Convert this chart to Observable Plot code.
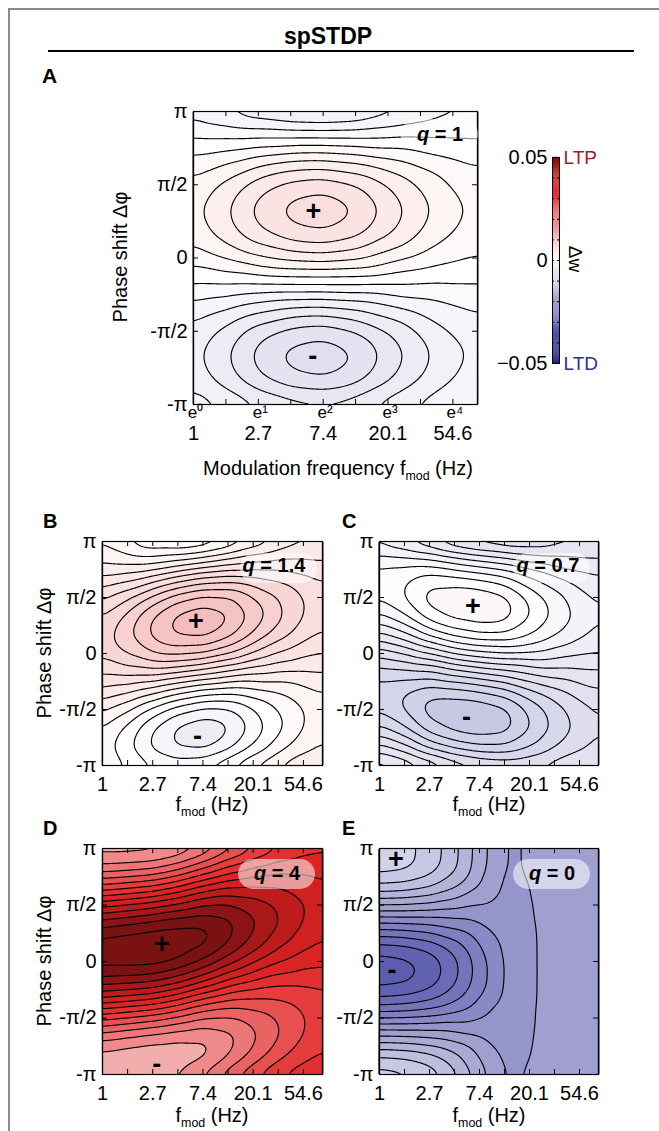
<!DOCTYPE html>
<html>
<head>
<meta charset="utf-8">
<script src="https://cdn.jsdelivr.net/npm/d3@7"></script>
<script src="https://cdn.jsdelivr.net/npm/@observablehq/plot@0.6"></script>
<style>
  html, body { margin: 0; padding: 0; background: #fff; }
  #page { position: relative; width: 659px; height: 1131px; overflow: hidden; background: #fff;
          font-family: "Liberation Sans", Arial, Helvetica, sans-serif; color: #000; }
  .abs { position: absolute; white-space: nowrap; line-height: 1; }
  .plot { position: absolute; }
  .plot svg { overflow: visible; }
  sub { font-size: 62%; vertical-align: -0.38em; line-height: 0; }
</style>
</head>
<body>
<div id="page"></div>
<script>
// ---------------- data (values in units of 0.001 of Δw) ----------------
// grid columns: ln(f_mod); grid rows: phase shift Δφ in units of π (top → bottom)
const lnf = [0, 0.5, 1, 1.5, 2, 2.5, 3, 3.5, 4, 4.5];
const phi = [1, 5/6, 2/3, 1/2, 1/3, 1/6, 0, -1/6, -1/3, -1/2, -2/3, -5/6, -1];

// Panel A, q = 1
const gridA = [
  [-1.4, -2.1, -2.9, -3.4, -3.6, -3.3, -2.5, -1.8, -1.2, -0.9],
  [-0.1, -0.2, -0.2, -0.3, -0.3, -0.3, -0.2, -0.1, -0.1, -0.1],
  [ 1.3,  1.8,  2.5,  3.0,  3.1,  2.8,  2.2,  1.6,  1.1,  0.7],
  [ 2.3,  3.3,  4.6,  5.4,  5.7,  5.1,  4.0,  2.9,  1.9,  1.4],
  [ 2.7,  3.9,  5.4,  6.4,  6.7,  6.1,  4.7,  3.4,  2.3,  1.6],
  [ 2.4,  3.5,  4.8,  5.7,  6.0,  5.4,  4.2,  3.0,  2.0,  1.4],
  [ 1.4,  2.1,  2.9,  3.4,  3.6,  3.3,  2.5,  1.8,  1.2,  0.9],
  [ 0.1,  0.2,  0.2,  0.3,  0.3,  0.3,  0.2,  0.1,  0.1,  0.1],
  [-1.3, -1.8, -2.5, -3.0, -3.1, -2.8, -2.2, -1.6, -1.1, -0.7],
  [-2.3, -3.3, -4.6, -5.4, -5.7, -5.1, -4.0, -2.9, -1.9, -1.4],
  [-2.7, -3.9, -5.4, -6.4, -6.7, -6.1, -4.7, -3.4, -2.3, -1.6],
  [-2.4, -3.5, -4.8, -5.7, -6.0, -5.4, -4.2, -3.0, -2.0, -1.4],
  [-1.4, -2.1, -2.9, -3.4, -3.6, -3.3, -2.5, -1.8, -1.2, -0.9]
];
const levelsA = [-7, -6, -5, -4, -3, -2, -1, 0, 1, 2, 3, 4, 5, 6];

// Panel B, q = 1.4
const gridB = [
  [1.8, 0.9, 0.0, -0.3, 0.0, 0.9, 2.1, 3.1, 3.8, 4.1],
  [2.8, 2.5, 2.4, 2.9, 3.5, 4.2, 4.8, 5.1, 5.1, 5.0],
  [4.2, 4.7, 5.5, 6.5, 7.3, 7.6, 7.3, 6.9, 6.3, 5.8],
  [5.8, 6.8, 8.3, 9.6, 10.3, 10.2, 9.1, 8.0, 7.0, 6.3],
  [7.0, 8.3, 10.0, 11.3, 11.8, 11.2, 9.7, 8.3, 7.0, 6.2],
  [7.5, 8.8, 10.3, 11.2, 11.4, 10.4, 8.9, 7.5, 6.4, 5.7],
  [7.2, 8.1, 9.0, 9.3, 9.0, 8.1, 6.9, 5.9, 5.2, 4.9],
  [6.2, 6.5, 6.6, 6.1, 5.5, 4.8, 4.2, 3.9, 3.9, 4.0],
  [4.8, 4.3, 3.5, 2.5, 1.7, 1.4, 1.7, 2.1, 2.7, 3.2],
  [3.2, 2.2, 0.7, -0.6, -1.3, -1.2, -0.1, 1.0, 2.0, 2.7],
  [2.0, 0.7, -1.0, -2.3, -2.8, -2.2, -0.7, 0.7, 2.0, 2.8],
  [1.5, 0.2, -1.3, -2.2, -2.4, -1.4, 0.1, 1.5, 2.6, 3.3],
  [1.8, 0.9, 0.0, -0.3, 0.0, 0.9, 2.1, 3.1, 3.8, 4.1]
];
const levelsB = [-4, -2, -1, 0, 1, 2, 3, 4, 5, 6, 7, 8, 9, 10, 11];

// Panel C, q = 0.7
const gridC = [
  [-2.8, -3.5, -4.5, -5.6, -6.2, -6.5, -6.4, -6.0, -5.7, -5.4],
  [-1.0, -1.1, -1.3, -2.0, -2.6, -3.1, -3.7, -4.1, -4.3, -4.4],
  [ 0.0,  0.4,  1.1,  0.9,  0.5, -0.1, -1.3, -2.2, -3.0, -3.5],
  [-0.3,  0.6,  2.0,  2.3,  2.3,  1.8,  0.3, -1.0, -2.1, -2.8],
  [-1.7, -0.6,  1.1,  1.9,  2.2,  2.0,  0.6, -0.7, -1.8, -2.6],
  [-3.8, -2.8, -1.3, -0.2,  0.4,  0.4, -0.4, -1.4, -2.3, -2.9],
  [-6.2, -5.5, -4.5, -3.4, -2.8, -2.5, -2.6, -3.0, -3.4, -3.6],
  [-8.0, -7.9, -7.8, -7.0, -6.4, -5.9, -5.3, -4.9, -4.7, -4.6],
  [-9.0, -9.4, -10.1, -9.9, -9.5, -8.9, -7.7, -6.8, -6.0, -5.5],
  [-8.7, -9.6, -11.0, -11.3, -11.3, -10.8, -9.3, -8.0, -6.9, -6.2],
  [-7.3, -8.4, -10.1, -10.9, -11.2, -11.0, -9.6, -8.3, -7.2, -6.4],
  [-5.2, -6.2, -7.8, -8.8, -9.4, -9.4, -8.6, -7.6, -6.7, -6.1],
  [-2.8, -3.5, -4.5, -5.6, -6.2, -6.5, -6.4, -6.0, -5.7, -5.4]
];
const levelsC = [-12, -10.5, -9.5, -8.5, -7.5, -6.5, -5.5, -4.5, -3.5, -2.5, -1.5, -0.5, 0.5, 1.5];

// Panel D, q = 4
const gridD = [
  [16.6, 16.5, 16.7, 18.2, 21.2, 25.6, 29.5, 32.8, 34.8, 35.7],
  [21.7, 22.3, 23.1, 25.5, 29.3, 33.3, 35.9, 37.7, 38.1, 37.8],
  [30.6, 31.7, 33.0, 35.6, 39.2, 41.7, 42.2, 42.0, 40.8, 39.3],
  [41.0, 42.3, 43.7, 45.8, 48.2, 48.6, 46.9, 44.8, 42.2, 40.0],
  [50.0, 51.2, 52.3, 53.4, 54.0, 52.1, 48.7, 45.2, 41.9, 39.6],
  [55.3, 56.0, 56.6, 56.3, 54.9, 51.3, 47.1, 43.1, 40.1, 38.2],
  [55.4, 55.5, 55.3, 53.8, 50.8, 46.4, 42.5, 39.2, 37.2, 36.3],
  [50.3, 49.7, 48.9, 46.5, 42.7, 38.7, 36.1, 34.3, 33.9, 34.2],
  [41.4, 40.3, 39.0, 36.4, 32.8, 30.3, 29.8, 30.0, 31.2, 32.7],
  [31.0, 29.7, 28.3, 26.2, 23.8, 23.4, 25.1, 27.2, 29.8, 32.0],
  [22.0, 20.8, 19.7, 18.6, 18.0, 19.9, 23.3, 26.8, 30.1, 32.4],
  [16.7, 16.0, 15.4, 15.7, 17.1, 20.7, 24.9, 28.9, 31.9, 33.8],
  [16.6, 16.5, 16.7, 18.2, 21.2, 25.6, 29.5, 32.8, 34.8, 35.7]
];
const levelsD = [13, 18, 21, 24, 27, 30, 33, 36, 39, 42, 45, 48, 51, 54];

// Panel E, q = 0
const gridE = [
  [ -8.9,  -9.4, -10.7, -13.4, -17.0, -20.2, -19.9,  -19.6, -19.3, -19.2],
  [ -9.0,  -9.4, -10.8, -13.5, -17.1, -20.2, -19.9,  -19.6, -19.3, -19.2],
  [-12.3, -12.6, -13.6, -15.5, -18.1, -20.4, -20.0,  -19.6, -19.3, -19.2],
  [-17.9, -18.0, -18.4, -19.1, -20.0, -20.8, -20.05, -19.6, -19.3, -19.2],
  [-24.4, -24.2, -23.9, -23.1, -22.1, -21.2, -20.1,  -19.6, -19.3, -19.2],
  [-29.9, -29.6, -28.6, -26.6, -23.9, -21.6, -20.15, -19.6, -19.3, -19.2],
  [-33.1, -32.6, -31.3, -28.6, -25.0, -21.8, -20.15, -19.6, -19.3, -19.2],
  [-33.0, -32.6, -31.2, -28.5, -25.0, -21.8, -20.15, -19.6, -19.3, -19.2],
  [-29.8, -29.4, -28.4, -26.5, -23.9, -21.6, -20.15, -19.6, -19.3, -19.2],
  [-24.1, -24.0, -23.6, -22.9, -22.0, -21.2, -20.1,  -19.6, -19.3, -19.2],
  [-17.6, -17.8, -18.2, -18.9, -19.9, -20.8, -20.05, -19.6, -19.3, -19.2],
  [-12.1, -12.4, -13.4, -15.4, -18.1, -20.4, -20.0,  -19.6, -19.3, -19.2],
  [ -8.9,  -9.4, -10.7, -13.4, -17.0, -20.2, -19.9,  -19.6, -19.3, -19.2]
];
const levelsE = [-33, -32, -30, -28, -26, -24, -22, -20, -18, -16, -14, -12, -10];

// extrema markers (ln f, Δφ/π)
const extremaA = [{x: 1.85, y: 0.315, s: "+"}, {x: 1.84, y: -0.671, s: "-"}];
const extremaB = [{x: 1.86, y: 0.285, s: "+"}, {x: 1.89, y: -0.736, s: "-"}];
const extremaC = [{x: 1.87, y: 0.425, s: "+"}, {x: 1.74, y: -0.574, s: "-"}];
const extremaD = [{x: 1.18, y: 0.15, s: "+"}, {x: 1.08, y: -0.91, s: "-"}];
const extremaE = [{x: 0.33, y: 0.90, s: "+"}, {x: 0.25, y: -0.08, s: "-"}];

// axes
const XMAX = 4.38; // ln(80 Hz)
const xMajor = [0, 1, 2, 3, 4];
const xLabelsExp = ["e⁰", "e¹", "e²", "e³", "e⁴"];
const xLabelsHz = ["1", "2.7", "7.4", "20.1", "54.6"];
const xMinor = [0, 0.5, 1, 1.5, 2, 2.5, 3, 3.5, 4];
const yTicks = [-1, -0.5, 0, 0.5, 1];
const yLabels = ["-π", "-π/2", "0", "π/2", "π"];

// colour bar
const cbDomain = [-50, 50];
const cbTicks = [-40, -30, -20, -10, 0, 10, 20, 30, 40];
const cbLabels = {"-50": "−0.05", "0": "0", "50": "0.05"};
const colorStops = [-50, -45, -40, -35, -30, -25, -20, -15, -10, -5, 0, 5, 10, 15, 20, 25, 30, 35, 40, 45, 50];
const colorRange = ["#1e2478", "#2e3090", "#40409e", "#5454ac", "#6a6ab6", "#8483c3", "#a09fd0", "#b9b9dd", "#d2d2e9", "#e7e7f3", "#ffffff",
                    "#fbe3e3", "#f6c3c3", "#f29e9e", "#ee7c7c", "#ea5c5c", "#e63c3c", "#e02626", "#cc1e1e", "#a81818", "#7a1212"];

// ---------------- rendering ----------------
const FONT = '"Liberation Sans", Arial, Helvetica, sans-serif';
const page = document.getElementById("page");
const colorFn = d3.scaleLinear().domain(colorStops).range(colorRange).clamp(true);
const colorOpt = {type: "linear", domain: cbDomain, clamp: true, interpolate: t => colorFn(-50 + 100 * t)};

function addEl(node, left, top) {
  const d = document.createElement("div");
  d.className = "plot";
  d.style.left = left + "px";
  d.style.top = top + "px";
  d.appendChild(node);
  page.appendChild(d);
}
function text(html, x, baseline, size, opts = {}) {
  const d = document.createElement("div");
  d.className = "abs";
  d.innerHTML = html;
  d.style.fontSize = size + "px";
  d.style.left = x + "px";
  d.style.top = (baseline - 0.8465 * size) + "px";
  if (opts.weight) d.style.fontWeight = opts.weight;
  if (opts.color) d.style.color = opts.color;
  if (opts.anchor === "middle") d.style.transform = "translateX(-50%)";
  if (opts.anchor === "end") d.style.transform = "translateX(-100%)";
  page.appendChild(d);
}
function rtext(html, cx, cy, size, deg) {
  const d = document.createElement("div");
  d.className = "abs";
  d.innerHTML = html;
  d.style.fontSize = size + "px";
  d.style.left = cx + "px";
  d.style.top = cy + "px";
  d.style.transform = `translate(-50%,-50%) rotate(${deg}deg)`;
  page.appendChild(d);
}
function box(left, top, w, h, style) {
  const d = document.createElement("div");
  d.style.position = "absolute";
  d.style.left = left + "px"; d.style.top = top + "px";
  d.style.width = w + "px"; d.style.height = h + "px";
  Object.assign(d.style, style);
  page.appendChild(d);
}

function panel(cfg) {
  const pts = [];
  cfg.grid.forEach((row, i) => row.forEach((v, j) => pts.push({x: lnf[j], y: phi[i], v})));
  const pw = cfg.width - cfg.ml - cfg.mr;
  const ph = cfg.height - cfg.mt - cfg.mb;
  const marks = [
    Plot.contour(pts, {x: "x", y: "y", fill: "v", stroke: "#000", strokeWidth: 1.15,
      interpolate: "barycentric", blur: cfg.blur, pixelSize: 1, thresholds: cfg.levels}),
    Plot.ruleX(xMinor, {insetTop: ph - 5, stroke: "#000"}),
    Plot.ruleX(xMinor, {insetBottom: ph - 5, stroke: "#000"}),
    Plot.ruleY(yTicks, {insetRight: pw - 5, stroke: "#000"}),
    Plot.ruleY(yTicks, {insetLeft: pw - 5, stroke: "#000"}),
    Plot.frame({stroke: "#000", strokeWidth: 1.2}),
    Plot.axisY({ticks: yTicks, tickFormat: d => yLabels[yTicks.indexOf(d)], tickSize: 0, tickPadding: 6, label: null}),
    Plot.text(cfg.extrema, {x: "x", y: "y", text: "s", fontSize: 27, fontWeight: "bold", fill: "#000"})
  ];
  if (cfg.expRow) {
    marks.push(Plot.axisX({ticks: xMajor, tickFormat: d => xLabelsExp[xMajor.indexOf(d)], tickSize: 0,
      tickPadding: cfg.expPad, fontSize: 17, dx: 2, label: null}));
  }
  marks.push(Plot.axisX({ticks: xMajor, tickFormat: d => xLabelsHz[xMajor.indexOf(d)], tickSize: 0, tickPadding: cfg.hzPad, label: null}));
  const svg = Plot.plot({
    width: cfg.width, height: cfg.height,
    marginLeft: cfg.ml, marginRight: cfg.mr, marginTop: cfg.mt, marginBottom: cfg.mb,
    x: {domain: [0, XMAX]},
    y: {domain: [-1, 1]},
    color: colorOpt,
    style: {fontFamily: FONT, fontSize: "20px", background: "transparent", color: "#000", overflow: "visible"},
    marks
  });
  addEl(svg, cfg.left, cfg.top);
}

// frame of the figure
box(8, 8, 700, 1.5, {background: "#8a8a8a"});
box(8, 8, 1.5, 1200, {background: "#8a8a8a"});

// title and rule
text("spSTDP", 328, 44, 23, {weight: 700, anchor: "middle"});
box(48, 50, 586, 1.6, {background: "#000"});

// panel letters
text("A", 42, 83, 21, {weight: 700});
text("B", 43, 528, 20, {weight: 700});
text("C", 342, 528, 20, {weight: 700});
text("D", 43, 835, 20, {weight: 700});
text("E", 342, 835, 20, {weight: 700});

panel({grid: gridA, levels: levelsA, extrema: extremaA, blur: 8,
  left: 60, top: 95, width: 440, height: 400, ml: 133, mr: 23, mt: 16, mb: 91, expRow: true, expPad: 1, hzPad: 21});
panel({grid: gridB, levels: levelsB, extrema: extremaB, blur: 6,
  left: 20, top: 530, width: 310, height: 300, ml: 82, mr: 8, mt: 11, mb: 65, hzPad: 11});
panel({grid: gridC, levels: levelsC, extrema: extremaC, blur: 6,
  left: 300, top: 530, width: 310, height: 300, ml: 79, mr: 12, mt: 11, mb: 65, hzPad: 11});
panel({grid: gridD, levels: levelsD, extrema: extremaD, blur: 6,
  left: 20, top: 837, width: 310, height: 294, ml: 82, mr: 8, mt: 11, mb: 57, hzPad: 11});
panel({grid: gridE, levels: levelsE, extrema: extremaE, blur: 6,
  left: 300, top: 837, width: 310, height: 294, ml: 79, mr: 12, mt: 11, mb: 57, hzPad: 11});

// colour bar
const cbSteps = d3.range(-50, 50, 0.5);
const cb = Plot.plot({
  width: 150, height: 250, marginLeft: 72, marginRight: 71, marginTop: 17, marginBottom: 27,
  x: {domain: [0, 1], axis: null},
  y: {domain: cbDomain},
  color: colorOpt,
  style: {fontFamily: FONT, fontSize: "20px", background: "transparent", color: "#000", overflow: "visible"},
  marks: [
    Plot.rect(cbSteps, {x1: 0, x2: 1, y1: d => d, y2: d => d + 0.6, fill: d => d + 0.25}),
    Plot.ruleY(cbTicks, {insetRight: 5, stroke: "#000"}),
    Plot.ruleY(cbTicks, {insetLeft: 5, stroke: "#000"}),
    Plot.frame({stroke: "#000", strokeWidth: 1}),
    Plot.axisY({ticks: [-50, 0, 50], tickFormat: d => cbLabels[String(d)], tickSize: 0, tickPadding: 5, label: null}),
    Plot.text([50], {x: 1, y: d => d, text: () => "LTP", dx: 4, textAnchor: "start", fill: "#a01c24", fontSize: 19}),
    Plot.text([-50], {x: 1, y: d => d, text: () => "LTD", dx: 4, textAnchor: "start", fill: "#2c3390", fontSize: 19})
  ]
});
addEl(cb, 480, 140);
rtext("Δw", 575, 259, 19, 90);

// axis titles
rtext("Phase shift Δφ", 120, 257, 20, -90);
rtext("Phase shift Δφ", 44, 653, 20, -90);
rtext("Phase shift Δφ", 44, 961, 20, -90);
text("Modulation frequency f<sub>mod</sub> (Hz)", 338, 475, 20, {anchor: "middle"});
text("f<sub>mod</sub> (Hz)", 212, 811, 20, {anchor: "middle"});
text("f<sub>mod</sub> (Hz)", 489, 811, 20, {anchor: "middle"});
text("f<sub>mod</sub> (Hz)", 212, 1122, 20, {anchor: "middle"});
text("f<sub>mod</sub> (Hz)", 489, 1122, 20, {anchor: "middle"});

// q labels with translucent pills
const pillStyle = {background: "rgba(255,255,255,0.55)", borderRadius: "15px"};
box(401, 119, 77, 30, pillStyle);
box(240, 553, 77, 30, pillStyle);
box(513, 553, 77, 30, pillStyle);
box(238, 859, 77, 30, pillStyle);
box(513, 859, 77, 30, pillStyle);
text("<i>q</i> = 1", 440, 141, 20, {weight: 700, anchor: "middle"});
text("<i>q</i> = 1.4", 274, 572, 20, {weight: 700, anchor: "middle"});
text("<i>q</i> = 0.7", 548, 572, 20, {weight: 700, anchor: "middle"});
text("<i>q</i> = 4", 277, 880, 20, {weight: 700, anchor: "middle"});
text("<i>q</i> = 0", 552, 880, 20, {weight: 700, anchor: "middle"});
</script>
</body>
</html>
